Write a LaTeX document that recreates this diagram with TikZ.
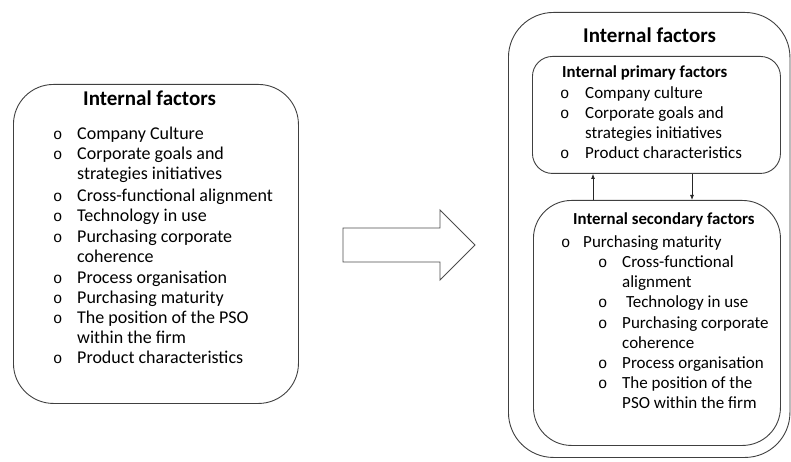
\documentclass[tikz,border=0pt]{standalone}
\usepackage{fontspec}
\setmainfont{Carlito}
\newfontfamily\bulletfont{Liberation Mono}
\usetikzlibrary{arrows.meta}
\begin{document}
\begin{tikzpicture}[x=1pt,y=-1pt,
  box/.style={draw=black!75, line width=0.9pt, fill=white, anchor=north west, inner sep=0pt},
  txt/.style={anchor=base west, inner sep=0pt, font=\fontsize{17}{20}\selectfont},
  bigtxt/.style={txt, font=\fontsize{18}{20}\selectfont},
  head/.style={anchor=base west, inner sep=0pt, font=\fontsize{16.8}{20}\selectfont\bfseries},
  title/.style={anchor=base west, inner sep=0pt, font=\fontsize{21}{24}\selectfont\bfseries},
  bul/.style={anchor=base west, inner sep=0pt, font=\fontsize{15.5}{17}\bulletfont},
  link/.style={draw=black!85, line width=0.8pt, -{Latex[length=5pt,width=4pt]}}]
\useasboundingbox (0,0) rectangle (791,462);

% ---------- left: flat list of internal factors ----------
\node[box, rounded corners=40pt, minimum width=285pt, minimum height=319pt] (left) at (13,84) {};
\node[title] (lt) at (83,106) {Internal factors};
\foreach \i/\yy/\b/\t in {
  1/140/o/Company Culture,
  2/160/o/Corporate goals and,
  3/180//strategies initiatives,
  4/202/o/Cross-functional alignment,
  5/222/o/Technology in use,
  6/242/o/Purchasing corporate,
  7/262//coherence,
  8/283/o/Process organisation,
  9/303/o/Purchasing maturity,
  10/323/o/The position of the PSO,
  11/343//within the firm,
  12/363/o/Product characteristics}{
  \node[bul] (lb\i) at (53,\yy) {\b};
  \node[bigtxt] (li\i) at (77,\yy) {\t};
}

% ---------- block arrow ----------
\draw[draw=black!70, line width=0.9pt, line join=miter]
  (343,228) -- (440,228) -- (440,210) -- (475,245) -- (440,280)
  -- (440,262) -- (343,262) -- cycle;

% ---------- right: grouped internal factors ----------
\node[box, rounded corners=45pt, minimum width=281.5pt, minimum height=445pt] (outer) at (508,12) {};
\node[title] (rt) at (583,43) {Internal factors};

\node[box, rounded corners=20pt, minimum width=248pt, minimum height=117pt] (prim) at (532,56) {};
\node[head] (pt) at (562,78) {Internal primary factors};
\foreach \i/\yy/\b/\t in {
  1/99/o/Company culture,
  2/119/o/Corporate goals and,
  3/139//strategies initiatives,
  4/159/o/Product characteristics}{
  \node[bul] (pb\i) at (560,\yy) {\b};
  \node[txt] (pi\i) at (585,\yy) {\t};
}

\node[box, rounded corners=38pt, minimum width=247pt, minimum height=245pt] (sec) at (533,200) {};
\node[head] (st) at (573,225) {Internal secondary factors};
\node[bul] (sb0) at (561,247) {o};
\node[txt] (si0) at (583,247) {Purchasing maturity};
\foreach \i/\yy/\b/\t in {
  1/267/o/Cross-functional,
  2/287//alignment,
  3/307.5/o/\hspace{3.8pt}Technology in use,
  4/328/o/Purchasing corporate,
  5/348//coherence,
  6/368/o/Process organisation,
  7/388.5/o/The position of the,
  8/408.5//PSO within the firm}{
  \node[bul] (sb\i) at (598,\yy) {\b};
  \node[txt] (si\i) at (622,\yy) {\t};
}

% ---------- links between primary and secondary factors ----------
\coordinate (upx) at (593,0);
\coordinate (downx) at (692,0);
\draw[link] (upx |- sec.north) -- (upx |- prim.south);
\draw[link] (downx |- prim.south) -- (downx |- sec.north);
\end{tikzpicture}
\end{document}
